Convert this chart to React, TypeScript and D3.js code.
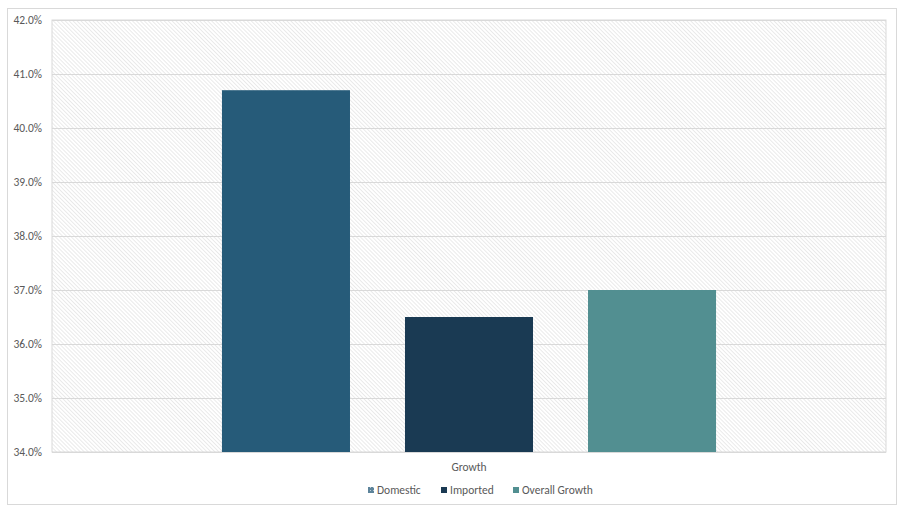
import React from "react";
import * as d3 from "d3";

const categories = ["Growth"];
const seriesNames = ["Domestic", "Imported", "Overall Growth"];
const seriesValues = [40.7, 36.5, 37.0];
const seriesColors = ["#265b79", "#1a3a53", "#528f91"];
const yTicks = [34, 35, 36, 37, 38, 39, 40, 41, 42];

export default function App() {
  const W = 902;
  const H = 510;
  const left = 52;
  const right = 886;
  const top = 20;
  const bottom = 452;

  const y = d3.scaleLinear().domain([34, 42]).range([bottom, top]);
  const x0 = d3.scaleBand().domain(categories).range([left, right]).paddingInner(0).paddingOuter(0.344);
  const x1 = d3
    .scaleBand()
    .domain(seriesNames)
    .range([0, x0.bandwidth()])
    .paddingInner(0.3005)
    .paddingOuter(0);

  const font = "Calibri, Carlito, 'Open Sans', 'Liberation Sans', sans-serif";
  const textColor = "#595959";

  const legendX = [368, 441, 513];

  return (
    <svg
      width={W}
      height={H}
      style={{ position: "absolute", left: 0, top: 0, background: "#fff" }}
      fontFamily={font}
    >
      <defs>
        <pattern id="hatch" width="2.8" height="2.8" patternUnits="userSpaceOnUse" patternTransform="rotate(-45)">
          <rect width="2.8" height="2.8" fill="#ffffff" />
          <line x1="0" y1="0" x2="0" y2="2.8" stroke="#d6d6d6" strokeWidth="1" />
        </pattern>
        <pattern id="legendDom" width="3" height="3" patternUnits="userSpaceOnUse">
          <rect width="3" height="3" fill={seriesColors[0]} opacity={0.75} />
          <rect x="1" y="1" width="1" height="1" fill="#ffffff" opacity={0.6} />
        </pattern>
      </defs>
      <rect x={7.5} y={8.5} width={889} height={496} fill="#fff" stroke="#d9d9d9" strokeWidth={1} />
      <rect x={left} y={top} width={right - left} height={bottom - top} fill="url(#hatch)" stroke="#d9d9d9" strokeWidth={1} />
      {yTicks.map((t) => (
        <g key={t}>
          <line x1={left} x2={right} y1={y(t) + 0.5} y2={y(t) + 0.5} stroke="#d9d9d9" strokeWidth={1} />
          <text x={42} y={y(t)} dy="0.35em" textAnchor="end" fontSize={11.5} fill={textColor}>
            {t.toFixed(1) + "%"}
          </text>
        </g>
      ))}
      {categories.map((c) => (
        <g key={c}>
          {seriesNames.map((s, i) => (
            <rect
              key={s}
              x={(x0(c) as number) + (x1(s) as number)}
              y={y(seriesValues[i])}
              width={x1.bandwidth()}
              height={bottom - y(seriesValues[i])}
              fill={seriesColors[i]}
            />
          ))}
          <text
            x={(x0(c) as number) + x0.bandwidth() / 2}
            y={467}
            dy="0.35em"
            textAnchor="middle"
            fontSize={11.5}
            fill={textColor}
          >
            {c}
          </text>
        </g>
      ))}
      {seriesNames.map((s, i) => (
        <g key={s}>
          <rect
            x={legendX[i]}
            y={487}
            width={6}
            height={6}
            fill={i === 0 ? "url(#legendDom)" : seriesColors[i]}
          />
          <text x={legendX[i] + 9} y={490} dy="0.35em" fontSize={11.5} fill={textColor}>
            {s}
          </text>
        </g>
      ))}
    </svg>
  );
}
